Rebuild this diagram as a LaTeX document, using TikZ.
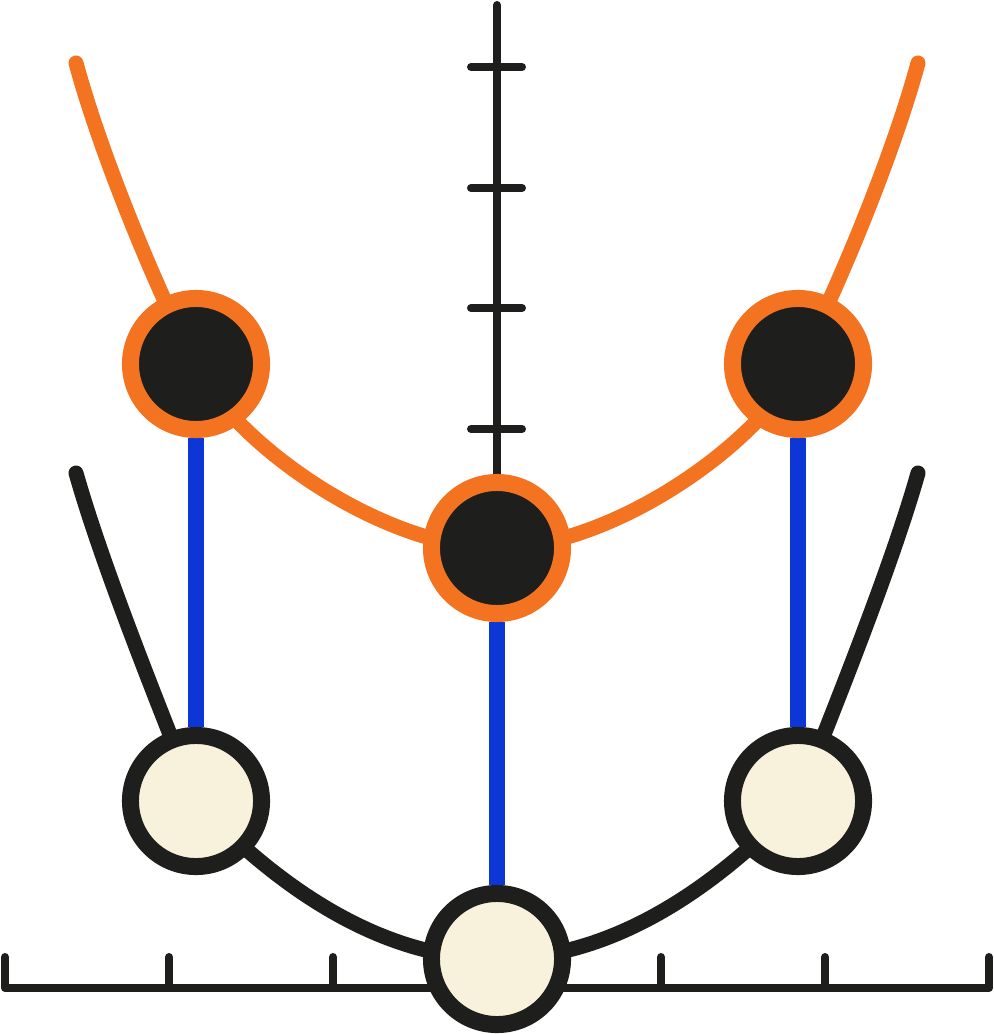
\documentclass[tikz,border=0pt]{standalone}
\usepackage{xcolor}
\usepackage{tikz}
\usetikzlibrary{backgrounds}
\definecolor{pkorange}{HTML}{F37321}
\definecolor{pkblue}{HTML}{0C36D6}
\definecolor{pkink}{HTML}{1E1E1C}
\definecolor{pkcream}{HTML}{F8F2DC}

\begin{document}
\begin{tikzpicture}[
  x=0.01cm, y=-0.01cm,
  upper/.style={circle, draw=pkorange, fill=pkink, line width=0.17cm,
               minimum size=1.31cm, inner sep=0pt},
  lower/.style={circle, draw=pkink, fill=pkcream, line width=0.17cm,
               minimum size=1.31cm, inner sep=0pt},
  axis/.style={draw=pkink, line width=0.08cm, line cap=round, line join=round},
  curve/.style={line width=0.15cm, line cap=round},
  link/.style={draw=pkblue, line width=0.165cm},
]
\useasboundingbox (0,0) rectangle (993,1034);

% Points on the upper curve
\node[upper] (upL) at (196,364) {};
\node[upper] (upM) at (497,548) {};
\node[upper] (upR) at (798,364) {};

% Points on the lower curve
\node[lower] (loL) at (196,801) {};
\node[lower] (loM) at (497,959) {};
\node[lower] (loR) at (798,801) {};

% Curve ends and axis ends
\coordinate (oEndL) at (76,63);
\coordinate (oEndR) at (918,63);
\coordinate (kEndL) at (76,473);
\coordinate (kEndR) at (918,473);
\coordinate (vTop) at (497,5);

\begin{scope}[on background layer]
% Axes
\draw[axis] (5,957) -- (5,988) -- (989,988) -- (989,957);
\foreach \x in {169,333,661,825}
  \draw[axis] (\x,957) -- (\x,988);
\draw[axis] (vTop) -- (upM.center);
\foreach \y in {67,188,308,429}
  \draw[axis] (471,\y) -- (522,\y);

% Upper curve
\draw[curve, pkorange] (upL.center) .. controls (171,321) and (105,170) .. (oEndL);
\draw[curve, pkorange] (upR.center) .. controls (823,321) and (889,170) .. (oEndR);
\draw[curve, pkorange] (upL.center) .. controls (230,440) and (380,548) .. (upM.center)
  .. controls (614,548) and (764,440) .. (upR.center);

% Lower curve
\draw[curve, pkink] (loL.center) .. controls (175,745) and (106,579) .. (kEndL);
\draw[curve, pkink] (loR.center) .. controls (819,745) and (888,579) .. (kEndR);
\draw[curve, pkink] (loL.center) .. controls (296,906) and (397,959) .. (loM.center)
  .. controls (597,959) and (698,906) .. (loR.center);

% Links
\draw[link] (upL) -- (loL);
\draw[link] (upM) -- (loM);
\draw[link] (upR) -- (loR);
\end{scope}
\end{tikzpicture}
\end{document}
